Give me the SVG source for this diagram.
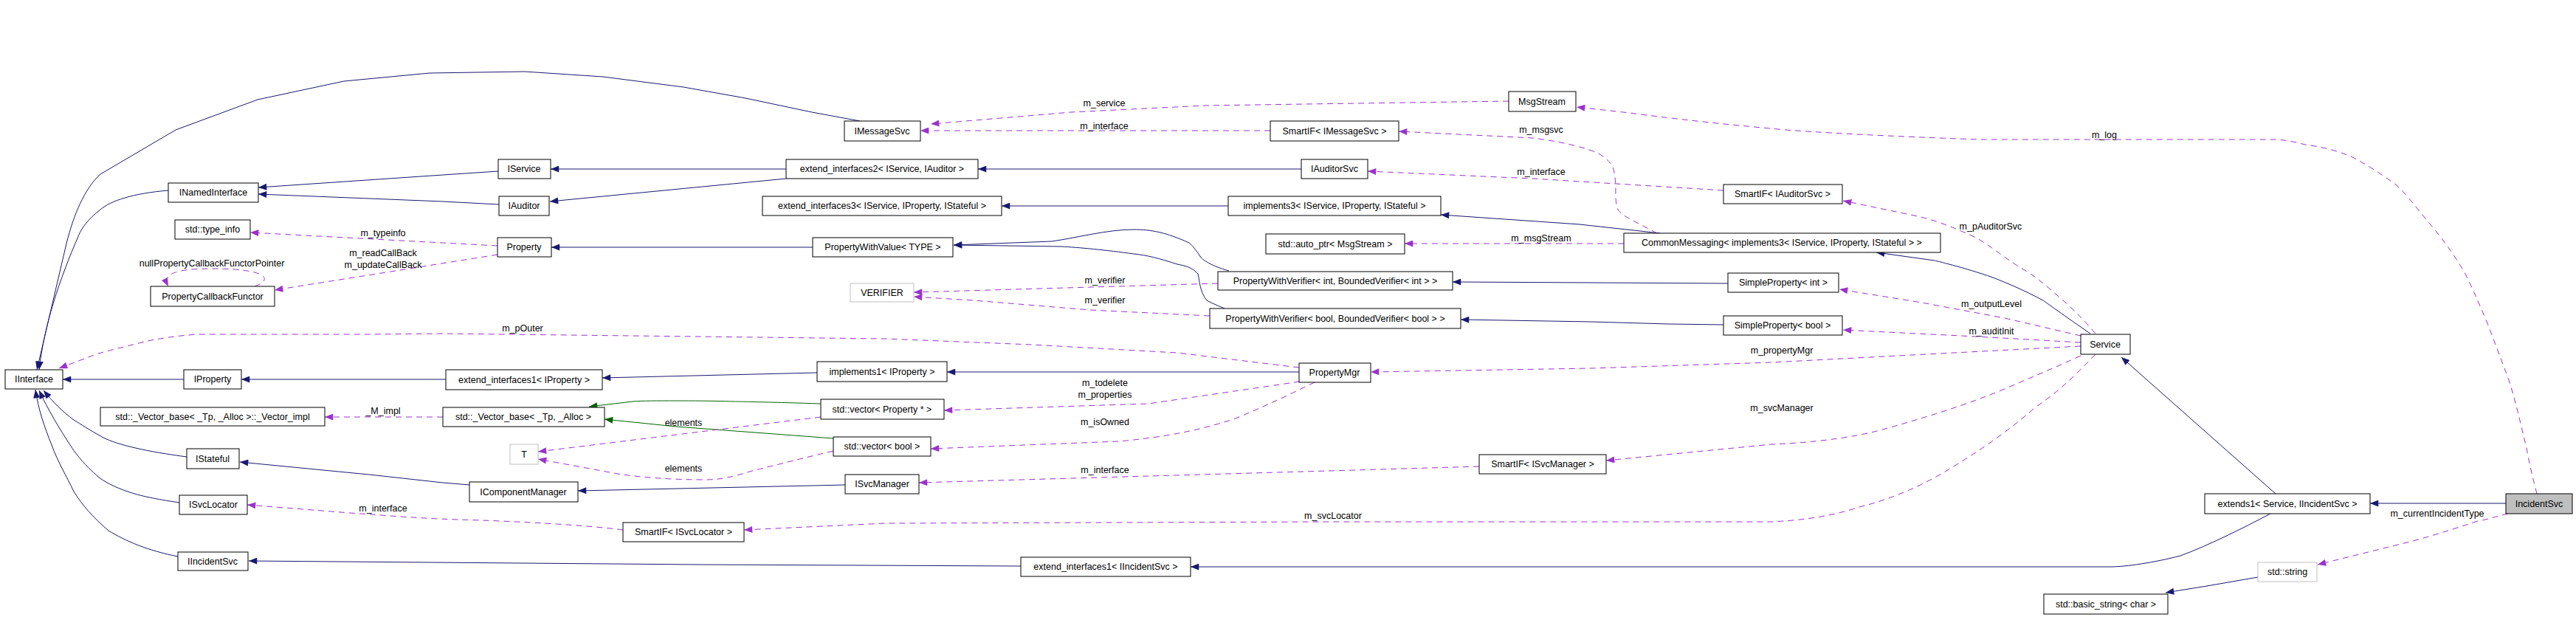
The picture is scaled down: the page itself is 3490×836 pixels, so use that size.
<svg xmlns="http://www.w3.org/2000/svg" width="3490" height="836" viewBox="0 0 3490 836">
<style>
text{font-family:"Liberation Sans",Arial,sans-serif;font-size:12.5px;fill:#000}
.n rect{fill:#fff;stroke:#000;stroke-width:1}
.g rect{fill:#fff;stroke:#bfbfbf;stroke-width:1}
.n text,.g text{text-anchor:middle}
.lbl{text-anchor:middle}
.inh{fill:none;stroke:#191970;stroke-width:1;marker-end:url(#an)}
.tpl{fill:none;stroke:#006400;stroke-width:1;marker-end:url(#ag)}
.use{fill:none;stroke:#9a32cd;stroke-width:1;stroke-dasharray:8,6;marker-end:url(#ap)}
</style>
<defs>
<marker id="an" viewBox="0 0 10 8" refX="10" refY="4" markerWidth="12" markerHeight="9" markerUnits="userSpaceOnUse" orient="auto"><path d="M0,0L10,4L0,8z" fill="#191970"/></marker>
<marker id="ap" viewBox="0 0 10 8" refX="10" refY="4" markerWidth="12" markerHeight="9" markerUnits="userSpaceOnUse" orient="auto"><path d="M0,0L10,4L0,8z" fill="#9a32cd"/></marker>
<marker id="ag" viewBox="0 0 10 8" refX="10" refY="4" markerWidth="12" markerHeight="9" markerUnits="userSpaceOnUse" orient="auto"><path d="M0,0L10,4L0,8z" fill="#006400"/></marker>
</defs>
<rect width="3490" height="836" fill="#fff"/>
<g id="connectors">
<path class="inh" d="M1165,164 L1100,152 L1010,133 L926,118 L817,104 L711,97 L582,99 L466,110 L349,135 L238,176 L136,236 C115,255 100,290 90,330 L50,501"/>
<path class="inh" d="M228,258 C180,262 150,272 136,284 C120,296 110,310 107,318 C80,380 60,440 53,501"/>
<path class="inh" d="M675,232 L600,237 L350,254"/>
<path class="inh" d="M676,277 L600,273 L350,263"/>
<path class="inh" d="M1065,229 L746,229"/>
<path class="inh" d="M1065,242 L745,273"/>
<path class="inh" d="M1763,229 L1325,229"/>
<path class="inh" d="M1664,279 L1357,279"/>
<path class="inh" d="M2249,316 L2140,304 L1952,291"/>
<path class="inh" d="M2832,452 C2800,430 2768,407 2768,407 C2740,392 2720,384 2700,376 C2660,362 2621,353 2621,353 L2542,342"/>
<path class="inh" d="M1101,335 L747,335"/>
<path class="inh" d="M1665,367 C1640,360 1630,352 1627,349 C1620,338 1615,332 1611,329 C1580,315 1560,311 1536,311 C1500,311 1460,322 1425,327 L1292,332"/>
<path class="inh" d="M1659,418 C1645,412 1638,409 1635,407 C1625,395 1625,378 1623,371 C1615,362 1605,360 1595,358 C1570,350 1555,346 1536,344 C1500,339 1460,335 1437,334 L1292,332"/>
<path class="inh" d="M2341,384 L1968,382"/>
<path class="inh" d="M2335,440 L2261,439 L2156,436 L1979,433"/>
<path class="inh" d="M249,514 L85,514"/>
<path class="inh" d="M604,514 L327,514"/>
<path class="inh" d="M1107,505 L816,512"/>
<path class="inh" d="M1760,504 L1283,504"/>
<path class="inh" d="M253,619 C200,612 160,603 140,593 C120,582 110,575 100,569 C85,558 72,545 59,529"/>
<path class="inh" d="M243,681 C210,676 190,672 173,666 C155,660 140,652 133,646 C115,630 105,618 97,606 C80,580 65,555 53,529"/>
<path class="inh" d="M241,754 C200,746 170,733 147,719 C125,700 112,685 100,666 C90,645 78,625 70,603 C60,578 52,555 48,528"/>
<path class="inh" d="M636,657 L600,654 L500,643 L325,626"/>
<path class="inh" d="M1145,657 L783,665"/>
<path class="inh" d="M1383,767 L950,765 L337,760"/>
<path class="inh" d="M3076,696 C3040,715 2990,740 2954,753 C2920,762 2880,768 2859,768 L1613,768"/>
<path class="inh" d="M3083,669 L2874,484"/>
<path class="inh" d="M3395,682 L3211,682"/>
<path class="inh" d="M3059,782 L2990,794 L2934,803"/>
<path class="tpl" d="M1112,547 C1050,545 1000,544 995,544 C960,543 930,543 916,543 C890,543 870,543 857,544 L798,551"/>
<path class="tpl" d="M1129,594 L916,578 L819,568"/>
<path class="use" d="M2044,137 L1633,143 L1451,152 L1261,168"/>
<path class="use" d="M1721,177 L1247,177"/>
<path class="use" d="M2245,316 C2215,300 2195,292 2191,282 C2188,270 2189,258 2189,251 C2188,238 2187,230 2184,224 C2175,212 2165,207 2156,204 C2130,195 2100,190 2077,187 L1895,178"/>
<path class="use" d="M2200,330 L1903,330"/>
<path class="use" d="M3437,669 C3432,650 3426,625 3423,607 C3415,575 3410,550 3400,518 C3390,490 3380,465 3370,438 C3360,415 3352,395 3340,371 C3325,345 3312,328 3297,309 C3280,290 3265,268 3247,251 C3225,235 3205,222 3187,213 C3165,203 3140,198 3123,196 C3105,191 3090,189 3080,189 L2680,189 C2600,186 2500,182 2420,176 C2330,168 2260,160 2208,153 L2136,145"/>
<path class="use" d="M2335,258 L2077,242 L1853,232"/>
<path class="use" d="M2839,452 C2820,430 2810,420 2795,407 C2770,385 2755,372 2736,362 C2710,345 2695,332 2677,322 C2640,305 2620,298 2598,293 L2497,272"/>
<path class="use" d="M2819,455 L2716,431 L2598,409 L2492,392"/>
<path class="use" d="M2819,464 L2677,456 L2497,447"/>
<path class="use" d="M2819,469 L2400,491 L2156,499 L1857,504"/>
<path class="use" d="M2819,482 C2780,500 2750,512 2716,527 C2660,550 2610,565 2558,580 C2510,594 2450,600 2400,602 L2176,624"/>
<path class="use" d="M2839,480 C2810,510 2790,530 2756,553 C2720,585 2680,612 2637,638 C2600,660 2560,677 2519,687 C2480,700 2440,705 2400,707 L1800,707 L1200,709 L1008,718"/>
<path class="use" d="M2004,632 L1800,638 L1245,654"/>
<path class="use" d="M844,718 C800,712 700,706 620,704 C560,702 520,698 474,695 L335,684"/>
<path class="use" d="M674,333 L339,315"/>
<path class="use" d="M674,345 L372,393"/>
<path class="use" d="M345,388 C372,378 360,364 287,364 C235,364 220,372 228,388"/>
<path class="use" d="M1760,498 L1595,478 L1398,467 L1200,459 L600,452 L500,453 L267,453 C240,455 220,458 200,462 C180,467 155,473 133,479 L80,499"/>
<path class="use" d="M1650,384 L1238,396"/>
<path class="use" d="M1639,428 L1477,420 L1319,407 L1238,402"/>
<path class="use" d="M1761,517 L1556,547 L1279,556"/>
<path class="use" d="M1781,518 C1740,538 1710,552 1674,567 C1620,585 1570,593 1516,598 L1261,608"/>
<path class="use" d="M1112,565 L916,589 L729,612"/>
<path class="use" d="M1129,611 C1070,625 1040,633 1019,638 C990,647 975,650 956,650 C910,650 870,647 837,642 L729,622"/>
<path class="use" d="M600,565 L440,565"/>
<path class="use" d="M3398,696 C3380,700 3370,704 3357,706 C3320,718 3290,728 3257,736 L3140,765"/>
</g>
<g id="labels">
<text class="lbl" x="1496" y="144">m_service</text>
<text class="lbl" x="1496" y="175">m_interface</text>
<text class="lbl" x="2088" y="180">m_msgsvc</text>
<text class="lbl" x="2851" y="187">m_log</text>
<text class="lbl" x="2088" y="237">m_interface</text>
<text class="lbl" x="2697" y="311">m_pAuditorSvc</text>
<text class="lbl" x="519" y="320">m_typeinfo</text>
<text class="lbl" x="2088" y="327">m_msgStream</text>
<text class="lbl" x="519" y="347">m_readCallBack</text>
<text class="lbl" x="519" y="363">m_updateCallBack</text>
<text class="lbl" x="287" y="361">nullPropertyCallbackFunctorPointer</text>
<text class="lbl" x="1497" y="384">m_verifier</text>
<text class="lbl" x="1497" y="411">m_verifier</text>
<text class="lbl" x="2698" y="416">m_outputLevel</text>
<text class="lbl" x="708" y="449">m_pOuter</text>
<text class="lbl" x="2698" y="453">m_auditInit</text>
<text class="lbl" x="2414" y="479">m_propertyMgr</text>
<text class="lbl" x="1497" y="523">m_todelete</text>
<text class="lbl" x="1497" y="539">m_properties</text>
<text class="lbl" x="2414" y="557">m_svcManager</text>
<text class="lbl" x="519" y="561">_M_impl</text>
<text class="lbl" x="1497" y="576">m_isOwned</text>
<text class="lbl" x="926" y="577">elements</text>
<text class="lbl" x="926" y="639">elements</text>
<text class="lbl" x="1497" y="641">m_interface</text>
<text class="lbl" x="519" y="693">m_interface</text>
<text class="lbl" x="1806" y="703">m_svcLocator</text>
<text class="lbl" x="3302" y="700">m_currentIncidentType</text>
</g>
<g id="IInterface" class="n"><rect x="7" y="501" width="78" height="26"/><text x="46" y="518">IInterface</text></g>
<g id="INamedInterface" class="n"><rect x="228" y="248" width="122" height="26"/><text x="289" y="265">INamedInterface</text></g>
<g id="type_info" class="n"><rect x="237" y="298" width="102" height="26"/><text x="288" y="315">std::type_info</text></g>
<g id="PropertyCallbackFunctor" class="n"><rect x="204" y="388" width="168" height="27"/><text x="288" y="406">PropertyCallbackFunctor</text></g>
<g id="IProperty" class="n"><rect x="249" y="501" width="78" height="26"/><text x="288" y="518">IProperty</text></g>
<g id="Vector_impl" class="n"><rect x="136" y="552" width="304" height="25"/><text x="288" y="569">std::_Vector_base&lt; _Tp, _Alloc &gt;::_Vector_impl</text></g>
<g id="IStateful" class="n"><rect x="253" y="608" width="71" height="27"/><text x="288" y="626">IStateful</text></g>
<g id="ISvcLocator" class="n"><rect x="243" y="671" width="92" height="26"/><text x="289" y="688">ISvcLocator</text></g>
<g id="IIncidentSvc" class="n"><rect x="241" y="748" width="95" height="25"/><text x="288" y="765">IIncidentSvc</text></g>
<g id="IMessageSvc" class="n"><rect x="1144" y="164" width="103" height="27"/><text x="1195" y="182">IMessageSvc</text></g>
<g id="IService" class="n"><rect x="675" y="216" width="71" height="26"/><text x="710" y="233">IService</text></g>
<g id="IAuditor" class="n"><rect x="676" y="266" width="68" height="26"/><text x="710" y="283">IAuditor</text></g>
<g id="Property" class="n"><rect x="674" y="322" width="73" height="26"/><text x="710" y="339">Property</text></g>
<g id="VERIFIER" class="g"><rect x="1152" y="384" width="86" height="25"/><text x="1195" y="401">VERIFIER</text></g>
<g id="extend_interfaces1_IProperty" class="n"><rect x="604" y="501" width="212" height="27"/><text x="710" y="519">extend_interfaces1&lt; IProperty &gt;</text></g>
<g id="Vector_base" class="n"><rect x="600" y="552" width="219" height="26"/><text x="709" y="569">std::_Vector_base&lt; _Tp, _Alloc &gt;</text></g>
<g id="T" class="g"><rect x="691" y="602" width="38" height="27"/><text x="710" y="620">T</text></g>
<g id="IComponentManager" class="n"><rect x="636" y="653" width="147" height="27"/><text x="709" y="671">IComponentManager</text></g>
<g id="SmartIF_ISvcLocator" class="n"><rect x="844" y="708" width="164" height="26"/><text x="926" y="725">SmartIF&lt; ISvcLocator &gt;</text></g>
<g id="extend_interfaces2" class="n"><rect x="1065" y="216" width="260" height="26"/><text x="1195" y="233">extend_interfaces2&lt; IService, IAuditor &gt;</text></g>
<g id="extend_interfaces3" class="n"><rect x="1033" y="266" width="324" height="26"/><text x="1195" y="283">extend_interfaces3&lt; IService, IProperty, IStateful &gt;</text></g>
<g id="PropertyWithValue" class="n"><rect x="1101" y="322" width="190" height="26"/><text x="1196" y="339">PropertyWithValue&lt; TYPE &gt;</text></g>
<g id="implements1" class="n"><rect x="1107" y="490" width="176" height="27"/><text x="1195" y="508">implements1&lt; IProperty &gt;</text></g>
<g id="vector_Property" class="n"><rect x="1112" y="541" width="167" height="27"/><text x="1195" y="559">std::vector&lt; Property * &gt;</text></g>
<g id="vector_bool" class="n"><rect x="1129" y="592" width="132" height="26"/><text x="1195" y="609">std::vector&lt; bool &gt;</text></g>
<g id="ISvcManager" class="n"><rect x="1145" y="643" width="100" height="26"/><text x="1195" y="660">ISvcManager</text></g>
<g id="SmartIF_IMessageSvc" class="n"><rect x="1721" y="164" width="174" height="27"/><text x="1808" y="182">SmartIF&lt; IMessageSvc &gt;</text></g>
<g id="IAuditorSvc" class="n"><rect x="1763" y="216" width="90" height="26"/><text x="1808" y="233">IAuditorSvc</text></g>
<g id="implements3" class="n"><rect x="1664" y="266" width="288" height="26"/><text x="1808" y="283">implements3&lt; IService, IProperty, IStateful &gt;</text></g>
<g id="auto_ptr" class="n"><rect x="1715" y="317" width="188" height="27"/><text x="1809" y="335">std::auto_ptr&lt; MsgStream &gt;</text></g>
<g id="PWV_int" class="n"><rect x="1650" y="368" width="318" height="25"/><text x="1809" y="385">PropertyWithVerifier&lt; int, BoundedVerifier&lt; int &gt; &gt;</text></g>
<g id="PWV_bool" class="n"><rect x="1639" y="418" width="340" height="27"/><text x="1809" y="436">PropertyWithVerifier&lt; bool, BoundedVerifier&lt; bool &gt; &gt;</text></g>
<g id="PropertyMgr" class="n"><rect x="1760" y="492" width="97" height="26"/><text x="1808" y="509">PropertyMgr</text></g>
<g id="extend_interfaces1_IIncidentSvc" class="n"><rect x="1383" y="755" width="230" height="26"/><text x="1498" y="772">extend_interfaces1&lt; IIncidentSvc &gt;</text></g>
<g id="MsgStream" class="n"><rect x="2044" y="124" width="91" height="27"/><text x="2089" y="142">MsgStream</text></g>
<g id="CommonMessaging" class="n"><rect x="2200" y="316" width="429" height="26"/><text x="2414" y="333">CommonMessaging&lt; implements3&lt; IService, IProperty, IStateful &gt; &gt;</text></g>
<g id="SmartIF_IAuditorSvc" class="n"><rect x="2335" y="250" width="161" height="26"/><text x="2415" y="267">SmartIF&lt; IAuditorSvc &gt;</text></g>
<g id="SimpleProperty_int" class="n"><rect x="2341" y="370" width="150" height="26"/><text x="2416" y="387">SimpleProperty&lt; int &gt;</text></g>
<g id="SimpleProperty_bool" class="n"><rect x="2335" y="428" width="161" height="26"/><text x="2415" y="445">SimpleProperty&lt; bool &gt;</text></g>
<g id="SmartIF_ISvcManager" class="n"><rect x="2004" y="616" width="172" height="26"/><text x="2090" y="633">SmartIF&lt; ISvcManager &gt;</text></g>
<g id="Service" class="n"><rect x="2819" y="453" width="67" height="27"/><text x="2852" y="471">Service</text></g>
<g id="extends1" class="n"><rect x="2987" y="669" width="224" height="27"/><text x="3099" y="687">extends1&lt; Service, IIncidentSvc &gt;</text></g>
<g id="basic_string" class="n"><rect x="2769" y="805" width="168" height="27"/><text x="2853" y="823">std::basic_string&lt; char &gt;</text></g>
<g id="string" class="g"><rect x="3059" y="762" width="80" height="26"/><text x="3099" y="779">std::string</text></g>
<g id="IncidentSvc"><rect x="3395" y="669" width="90" height="27" fill="#bfbfbf" stroke="#000"/><text x="3440" y="687" text-anchor="middle">IncidentSvc</text></g>
</svg>
